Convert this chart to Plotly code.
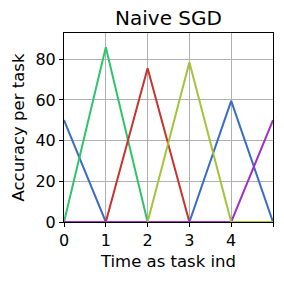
import plotly.graph_objects as go

time_steps = [0, 1, 2, 3, 4, 5]
task0 = [50.1, 0, 0, 0, 0, 0]
task1 = [0, 85.9, 0, 0, 0, 0]
task2 = [0, 0, 75.6, 0, 0, 0]
task4 = [0, 0, 0, 0, 59.5, 0]
task5 = [0, 0, 0, 0, 0, 50.1]
task3 = [None, None, 0, 78.5, 0, 0]
x_tick_vals = [0, 1, 2, 3, 4, 5]
x_tick_text = ["0", "1", "2", "3", "4", ""]
y_tick_vals = [0, 20, 40, 60, 80]

series = [
    (task0, "#3a6bc8"),
    (task1, "#2ec46a"),
    (task2, "#c8322f"),
    (task4, "#3a6bc8"),
    (task5, "#a030c8"),
    (task3, "#a5c23a"),
]

fig = go.Figure()
for ys, col in series:
    fig.add_trace(go.Scatter(x=time_steps, y=ys, mode="lines",
                             line=dict(color=col, width=2), showlegend=False,
                             hoverinfo="skip"))

font = dict(family="DejaVu Sans", size=16.5, color="black")
axis_common = dict(showline=True, linecolor="black", linewidth=1, mirror=True,
                   ticks="outside", ticklen=4, tickcolor="black", tickwidth=1,
                   showgrid=True, gridcolor="#b0b0b0", gridwidth=1, zeroline=False,
                   tickfont=dict(family="DejaVu Sans", size=16, color="black"),
                   automargin=False)

fig.update_layout(
    width=284, height=284,
    margin=dict(l=64, r=11, t=33, b=62, autoexpand=False),
    paper_bgcolor="white", plot_bgcolor="white",
    font=font,
    title=dict(text="Naive SGD", x=0.5, xref="paper", xanchor="center",
               y=1 - 18 / 284, yref="container", yanchor="middle",
               font=dict(family="DejaVu Sans", size=20, color="black"),
               automargin=False),
    xaxis=dict(range=[0, 5], tickvals=x_tick_vals, ticktext=x_tick_text,
               title=dict(text="Time as task ind", standoff=6, font=font),
               **axis_common),
    yaxis=dict(range=[0, 92.9], tickvals=y_tick_vals,
               title=dict(text="Accuracy per task", standoff=6, font=font),
               **axis_common),
)

fig.write_html("out.html",
               config={"displayModeBar": False, "staticPlot": True},
               post_script="document.body.style.margin='0';document.body.style.overflow='hidden';")
